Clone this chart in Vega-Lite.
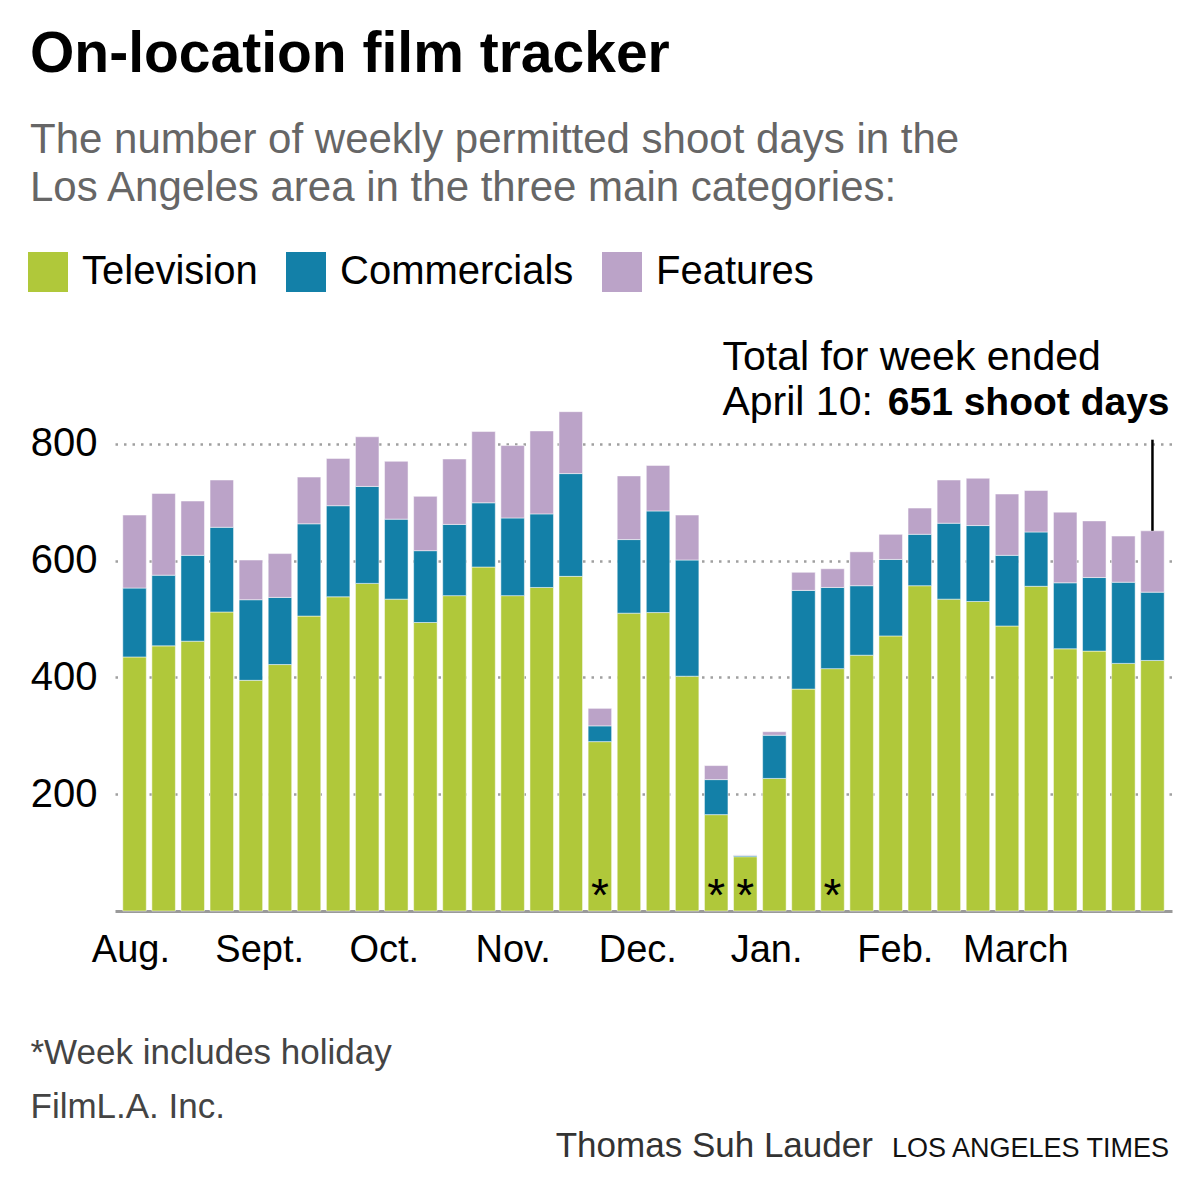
{
  "$schema": "https://vega.github.io/schema/vega-lite/v6.json",
  "width": 1057,
  "height": 584,
  "autosize": {"type": "none"},
  "padding": {"left": 115, "top": 327, "right": 28, "bottom": 289},
  "background": "white",
  "config": {
    "view": {"stroke": null},
    "font": "Liberation Sans"
  },
  "title": {
    "text": "On-location film tracker",
    "subtitle": ["The number of weekly permitted shoot days in the", "Los Angeles area in the three main categories:"],
    "anchor": "start",
    "frame": "group",
    "dx": -85,
    "font": "Liberation Sans",
    "fontSize": 57,
    "fontWeight": "bold",
    "color": "#000000",
    "subtitleFont": "Liberation Sans",
    "subtitleFontSize": 42,
    "subtitleColor": "#666666",
    "subtitleLineHeight": 48,
    "subtitlePadding": 36,
    "offset": 42
  },
  "datasets": {
    "weeks": [
      {"week": "2015-08-09", "Television": 435, "Commercials": 118, "Features": 125},
      {"week": "2015-08-16", "Television": 454, "Commercials": 121, "Features": 140},
      {"week": "2015-08-23", "Television": 462, "Commercials": 147, "Features": 93},
      {"week": "2015-08-30", "Television": 512, "Commercials": 145, "Features": 81},
      {"week": "2015-09-06", "Television": 395, "Commercials": 138, "Features": 68},
      {"week": "2015-09-13", "Television": 422, "Commercials": 115, "Features": 75},
      {"week": "2015-09-20", "Television": 505, "Commercials": 158, "Features": 80},
      {"week": "2015-09-27", "Television": 538, "Commercials": 156, "Features": 81},
      {"week": "2015-10-04", "Television": 561, "Commercials": 166, "Features": 85},
      {"week": "2015-10-11", "Television": 534, "Commercials": 137, "Features": 99},
      {"week": "2015-10-18", "Television": 494, "Commercials": 123, "Features": 93},
      {"week": "2015-10-25", "Television": 540, "Commercials": 122, "Features": 112},
      {"week": "2015-11-01", "Television": 589, "Commercials": 110, "Features": 122},
      {"week": "2015-11-08", "Television": 540, "Commercials": 133, "Features": 124},
      {"week": "2015-11-15", "Television": 554, "Commercials": 126, "Features": 142},
      {"week": "2015-11-22", "Television": 573, "Commercials": 176, "Features": 106},
      {"week": "2015-11-29", "Television": 290, "Commercials": 27, "Features": 30, "note": "*"},
      {"week": "2015-12-06", "Television": 510, "Commercials": 126, "Features": 109},
      {"week": "2015-12-13", "Television": 511, "Commercials": 174, "Features": 78},
      {"week": "2015-12-20", "Television": 402, "Commercials": 199, "Features": 77},
      {"week": "2015-12-27", "Television": 165, "Commercials": 60, "Features": 24, "note": "*"},
      {"week": "2016-01-03", "Television": 93, "Commercials": 2, "Features": 1, "note": "*"},
      {"week": "2016-01-10", "Television": 227, "Commercials": 74, "Features": 6},
      {"week": "2016-01-17", "Television": 380, "Commercials": 169, "Features": 31},
      {"week": "2016-01-24", "Television": 415, "Commercials": 139, "Features": 32, "note": "*"},
      {"week": "2016-01-31", "Television": 438, "Commercials": 119, "Features": 58},
      {"week": "2016-02-07", "Television": 471, "Commercials": 131, "Features": 43},
      {"week": "2016-02-14", "Television": 557, "Commercials": 88, "Features": 45},
      {"week": "2016-02-21", "Television": 534, "Commercials": 130, "Features": 74},
      {"week": "2016-02-28", "Television": 530, "Commercials": 130, "Features": 81},
      {"week": "2016-03-06", "Television": 488, "Commercials": 121, "Features": 105},
      {"week": "2016-03-13", "Television": 556, "Commercials": 93, "Features": 71},
      {"week": "2016-03-20", "Television": 449, "Commercials": 113, "Features": 121},
      {"week": "2016-03-27", "Television": 445, "Commercials": 126, "Features": 97},
      {"week": "2016-04-03", "Television": 424, "Commercials": 139, "Features": 79},
      {"week": "2016-04-10", "Television": 429, "Commercials": 117, "Features": 105}
    ],
    "categories": [
      {"category": "Television", "rank": 1},
      {"category": "Commercials", "rank": 2},
      {"category": "Features", "rank": 3}
    ]
  },
  "layer": [
    {
      "data": {"name": "weeks"},
      "transform": [
        {"fold": ["Television", "Commercials", "Features"], "as": ["category", "days"]},
        {"lookup": "category", "from": {"data": {"name": "categories"}, "key": "category", "fields": ["rank"]}}
      ],
      "mark": {"type": "bar", "width": 23.5, "stroke": "white", "strokeWidth": 0.7, "strokeOpacity": 0.7},
      "encoding": {
        "x": {
          "field": "week",
          "type": "temporal",
          "scale": {
            "type": "utc",
            "domain": [
              {"year": 2015, "month": 8, "date": 5, "hours": 12, "utc": true},
              {"year": 2016, "month": 4, "date": 13, "hours": 12, "utc": true}
            ]
          },
          "axis": {
            "values": [
              {"year": 2015, "month": 8, "date": 8, "utc": true},
              {"year": 2015, "month": 9, "date": 8, "utc": true},
              {"year": 2015, "month": 10, "date": 8, "utc": true},
              {"year": 2015, "month": 11, "date": 8, "utc": true},
              {"year": 2015, "month": 12, "date": 8, "utc": true},
              {"year": 2016, "month": 1, "date": 8, "utc": true},
              {"year": 2016, "month": 2, "date": 8, "utc": true},
              {"year": 2016, "month": 3, "date": 8, "utc": true}
            ],
            "labelExpr": "['Jan.','Feb.','March','April','May','June','July','Aug.','Sept.','Oct.','Nov.','Dec.'][utcmonth(datum.value)]",
            "labelFont": "Liberation Sans",
            "labelFontSize": 38,
            "labelColor": "#000000",
            "labelPadding": 20,
            "labelFlush": false,
            "labelOverlap": false,
            "ticks": false,
            "tickSize": 0,
            "grid": false,
            "domain": true,
            "domainColor": "#9a9a9a",
            "domainWidth": 3,
            "title": ["*Week includes holiday", "FilmL.A. Inc."],
            "titleFont": "Liberation Sans",
            "titleFontSize": 35,
            "titleFontWeight": "normal",
            "titleColor": "#444444",
            "titleAnchor": "start",
            "titleAlign": "left",
            "titleBaseline": "alphabetic",
            "titleX": -85,
            "titleY": 152,
            "titleLineHeight": 54
          }
        },
        "y": {
          "field": "days",
          "type": "quantitative",
          "stack": "zero",
          "scale": {"domain": [0, 1000], "nice": false},
          "axis": {
            "values": [200, 400, 600, 800],
            "labelFont": "Liberation Sans",
            "labelFontSize": 40,
            "labelColor": "#000000",
            "labelPadding": 18,
            "ticks": false,
            "tickSize": 0,
            "domain": false,
            "grid": true,
            "gridColor": "#a0a0a0",
            "gridWidth": 2.5,
            "gridDash": [2.5, 6],
            "title": null
          }
        },
        "order": {"field": "rank", "type": "quantitative", "sort": "ascending"},
        "color": {
          "field": "category",
          "type": "nominal",
          "sort": ["Television", "Commercials", "Features"],
          "scale": {"domain": ["Television", "Commercials", "Features"], "range": ["#b0c83a", "#1380a8", "#bba3c8"]},
          "legend": {
            "orient": "none",
            "direction": "horizontal",
            "legendX": -87,
            "legendY": -75,
            "title": null,
            "padding": 0,
            "symbolType": "square",
            "symbolSize": 1600,
            "symbolStrokeWidth": 0,
            "symbolOpacity": 1,
            "labelFont": "Liberation Sans",
            "labelFontSize": 40,
            "labelColor": "#000000",
            "labelOffset": 14,
            "columnPadding": 28,
            "labelLimit": 400
          }
        }
      }
    },
    {
      "data": {"name": "weeks"},
      "transform": [{"filter": "datum.note"}],
      "mark": {"type": "text", "font": "Liberation Sans", "fontSize": 46, "baseline": "alphabetic", "align": "center", "dy": 0, "color": "#000000"},
      "encoding": {
        "x": {"field": "week", "type": "temporal"},
        "y": {"datum": 0},
        "text": {"field": "note"}
      }
    },
    {
      "data": {"values": [{}]},
      "mark": {"type": "rule", "strokeWidth": 2.5, "color": "#000000"},
      "encoding": {
        "x": {"datum": {"year": 2016, "month": 4, "date": 10, "utc": true}},
        "y": {"datum": 651},
        "y2": {"datum": 807}
      }
    },
    {
      "data": {"values": [{}]},
      "mark": {"type": "text", "font": "Liberation Sans", "fontSize": 41, "align": "left", "baseline": "alphabetic", "color": "#000000"},
      "encoding": {
        "x": {"datum": {"year": 2015, "month": 12, "date": 28, "hours": 12, "utc": true}},
        "y": {"datum": 927},
        "text": {"value": "Total for week ended"}
      }
    },
    {
      "data": {"values": [{}]},
      "mark": {"type": "text", "font": "Liberation Sans", "fontSize": 41, "align": "left", "baseline": "alphabetic", "color": "#000000"},
      "encoding": {
        "x": {"datum": {"year": 2015, "month": 12, "date": 28, "hours": 12, "utc": true}},
        "y": {"datum": 850},
        "text": {"value": "April 10:"}
      }
    },
    {
      "data": {"values": [{}]},
      "mark": {"type": "text", "font": "Liberation Sans", "fontSize": 39, "fontWeight": "bold", "align": "left", "baseline": "alphabetic", "color": "#000000"},
      "encoding": {
        "x": {"datum": {"year": 2016, "month": 2, "date": 6, "hours": 7, "utc": true}},
        "y": {"datum": 850},
        "text": {"value": "651 shoot days"}
      }
    },
    {
      "data": {"values": [{}]},
      "mark": {"type": "text", "font": "Liberation Sans", "fontSize": 35, "align": "right", "baseline": "alphabetic", "color": "#333333"},
      "encoding": {
        "x": {"datum": {"year": 2016, "month": 2, "date": 2, "hours": 17, "utc": true}},
        "y": {"datum": -421},
        "text": {"value": "Thomas Suh Lauder"}
      }
    },
    {
      "data": {"values": [{}]},
      "mark": {"type": "text", "font": "Liberation Sans", "fontSize": 27, "align": "right", "baseline": "alphabetic", "color": "#111111"},
      "encoding": {
        "x": {"datum": {"year": 2016, "month": 4, "date": 14, "utc": true}},
        "y": {"datum": -421},
        "text": {"value": "LOS ANGELES TIMES"}
      }
    }
  ]
}
